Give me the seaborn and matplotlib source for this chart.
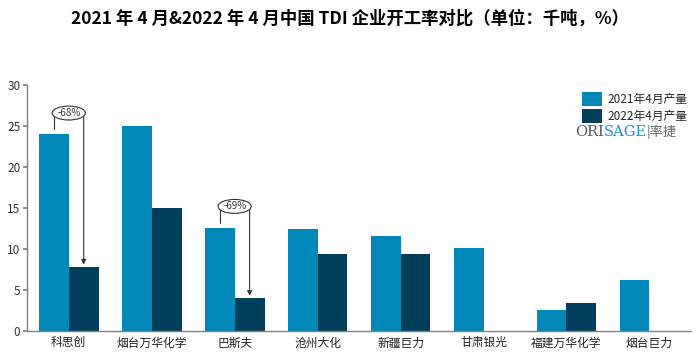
import matplotlib
matplotlib.use("Agg")
import matplotlib.pyplot as plt
import seaborn as sns
import pandas as pd
from matplotlib.patches import Ellipse

sns.set_theme(style="white")
plt.rcParams['font.family'] = ['Noto Sans CJK SC', 'DejaVu Sans']

categories = ["科思创", "烟台万华化学", "巴斯夫", "沧州大化", "新疆巨力", "甘肃银光", "福建万华化学", "烟台巨力"]
series_names = ["2021年4月产量", "2022年4月产量"]
values_2021 = [24.0, 25.0, 12.6, 12.5, 11.6, 10.1, 2.5, 6.2]
values_2022 = [7.8, 15.0, 4.0, 9.4, 9.4, 0.0, 3.4, 0.0]
yticks = [0, 5, 10, 15, 20, 25, 30]
annotations = [(0, "-68%"), (2, "-69%")]

df = pd.DataFrame({
    "企业": categories * 2,
    "产量": values_2021 + values_2022,
    "系列": [series_names[0]] * len(categories) + [series_names[1]] * len(categories),
})

colors = ["#0088B9", "#003F5C"]

fig = plt.figure(figsize=(7, 3.55), dpi=100)
ax = fig.add_axes([0.039, 0.068, 0.948, 0.692])
sns.barplot(data=df, x="企业", y="产量", hue="系列", palette=colors, width=0.72,
            saturation=1, ax=ax, edgecolor="none")

ax.set_ylim(0, 30)
ax.set_xlim(-0.5, len(categories) - 0.5)
ax.set_yticks(yticks)
ax.set_yticklabels([str(t) for t in yticks], fontsize=8.5, color="#333333")
ax.set_xticklabels(categories, fontsize=8.5, color="#222222")
ax.set_xlabel("")
ax.set_ylabel("")
for s in ["top", "right"]:
    ax.spines[s].set_visible(False)
for s in ["left", "bottom"]:
    ax.spines[s].set_color("#808080")
    ax.spines[s].set_linewidth(1.0)
ax.tick_params(axis="y", which="both", left=True, length=3, color="#808080", pad=2)
ax.tick_params(axis="x", length=0, pad=4)

leg = ax.legend(loc="upper right", bbox_to_anchor=(1.005, 1.0), frameon=False, fontsize=8.5,
                handlelength=1.7, handleheight=1.35, handletextpad=0.4, labelspacing=0.3,
                borderaxespad=0.2)

# decline annotations
for idx, label in annotations:
    v1 = values_2021[idx]
    v2 = values_2022[idx]
    x1 = idx - 0.18
    x2 = idx + 0.18
    ytop = max(v1, v2) + 2.6
    ax.plot([x1, x1], [v1 + 0.6, ytop], color="#333333", lw=0.8)
    ax.annotate("", xy=(x2, v2 + 0.3), xytext=(x2, ytop),
                arrowprops=dict(arrowstyle="-|>", color="#333333", lw=0.8,
                                mutation_scale=7, shrinkA=0, shrinkB=0))
    ax.add_patch(Ellipse(((x1 + x2) / 2, ytop), 0.40, 1.7, facecolor="white",
                         edgecolor="#333333", lw=0.8, zorder=5))
    ax.text((x1 + x2) / 2, ytop, label, ha="center", va="center", fontsize=7,
            color="#333333", zorder=6)

fig.text(0.5, 0.948, "2021 年 4 月&2022 年 4 月中国 TDI 企业开工率对比（单位：千吨，%）",
         ha="center", va="center", fontsize=12.5, fontweight="bold", color="black")

# logo text
fig.canvas.draw()
r = fig.canvas.get_renderer()
x0 = 575 / 700
yl = 1 - 132 / 355
parts = [("ORI", "#555555", "DejaVu Serif", 10.5), ("SAGE", "#1a90d0", "DejaVu Serif", 10.5),
         ("|率捷", "#666666", "Noto Sans CJK SC", 9.5)]
xc = x0
for txt, col, fam, fs in parts:
    t = fig.text(xc, yl, txt, fontsize=fs, color=col, family=fam, va="center", ha="left")
    bb = t.get_window_extent(renderer=r)
    xc += bb.width / fig.bbox.width

fig.savefig("out.png", dpi=100)
